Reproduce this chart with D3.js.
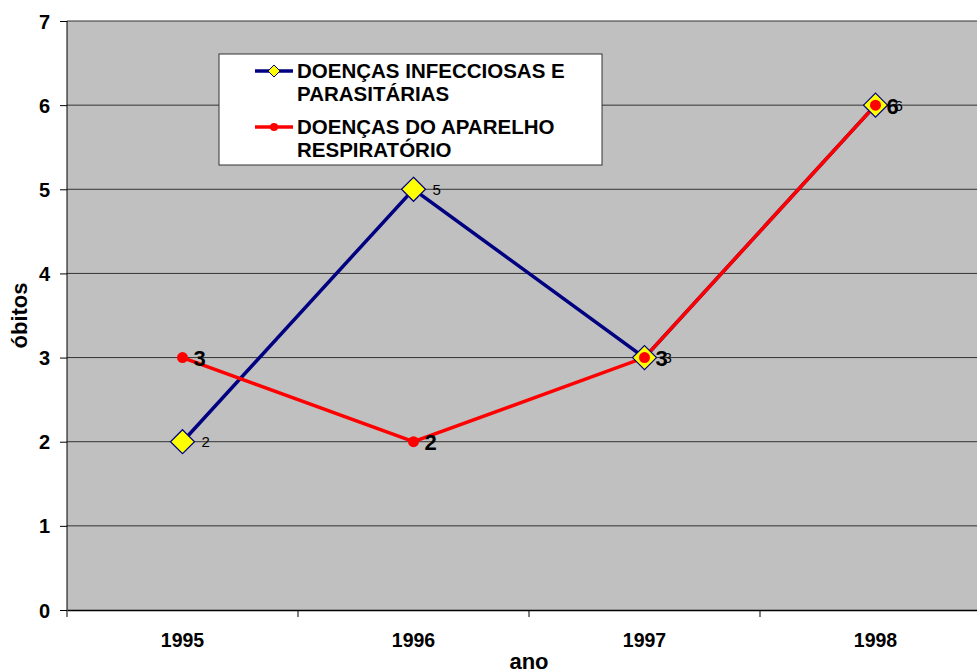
<!DOCTYPE html>
<html>
<head>
<meta charset="utf-8">
<script src="https://cdn.jsdelivr.net/npm/d3@7"></script>
<style>
  body { margin: 0; background: #fff; }
  svg { font-family: "Liberation Sans", Arial, sans-serif; }
</style>
</head>
<body>
<svg id="chart" width="977" height="671"></svg>
<script>
// Data
const years = ['1995', '1996', '1997', '1998'];
const infecciosas = [2, 5, 3, 6];
const respiratorio = [3, 2, 3, 6];
const yTicks = [0, 1, 2, 3, 4, 5, 6, 7];

const svg = d3.select('#chart');
const margin = { left: 67, top: 21, right: -14, bottom: 61 };
const width = 977 - margin.left - margin.right;
const height = 671 - margin.top - margin.bottom;

const g = svg.append('g').attr('transform', `translate(${margin.left},${margin.top})`);

const x = d3.scaleBand().domain(years).range([0, width]);
const y = d3.scaleLinear().domain([0, 7]).range([height, 0]);

// Plot background
g.append('rect')
    .attr('width', width).attr('height', height)
    .attr('fill', '#c0c0c0');

// Gridlines
g.selectAll('.grid')
    .data(yTicks.filter(d => d > 0))
    .enter().append('line')
    .attr('x1', 0).attr('x2', width)
    .attr('y1', d => y(d)).attr('y2', d => y(d))
    .attr('stroke', '#333').attr('stroke-width', 1);

// Y axis
const yAxis = g.append('g')
    .call(d3.axisLeft(y).tickValues(yTicks).tickSize(7).tickPadding(10).tickFormat(d3.format('d')));
yAxis.select('.domain').attr('d', `M0,${height}V0`).attr('stroke', '#000');
yAxis.selectAll('text').attr('font-size', 20).attr('font-weight', 'bold').attr('dy', '0.35em');

// X axis
const xAxis = g.append('g')
    .attr('transform', `translate(0,${height})`)
    .call(d3.axisBottom(x).tickSize(0).tickPadding(25));
xAxis.select('.domain').attr('stroke', '#000').attr('stroke-width', 1.5);
xAxis.selectAll('text').attr('font-size', 19.5).attr('font-weight', 'bold').attr('dy', '0.6em');
g.selectAll('.xtick')
    .data(years)
    .enter().append('line')
    .attr('x1', d => x(d)).attr('x2', d => x(d))
    .attr('y1', height).attr('y2', height + 7)
    .attr('stroke', '#000');

// Axis titles
svg.append('text')
    .attr('x', margin.left + x.step() * 2).attr('y', 669)
    .attr('text-anchor', 'middle')
    .attr('font-size', 22).attr('font-weight', 'bold')
    .text('ano');
svg.append('text')
    .attr('transform', `translate(27,${margin.top + height / 2}) rotate(-90)`)
    .attr('text-anchor', 'middle')
    .attr('font-size', 22).attr('font-weight', 'bold')
    .text('óbitos');

const cx = d => x(d) + x.bandwidth() / 2;
const line = d3.line().x(d => cx(d[0])).y(d => y(d[1]));

// Blue series
const blueData = years.map((yr, i) => [yr, infecciosas[i]]);
g.append('path')
    .datum(blueData)
    .attr('d', line)
    .attr('fill', 'none').attr('stroke', '#000080').attr('stroke-width', 3.5);

// Red series
const redData = years.map((yr, i) => [yr, respiratorio[i]]);
g.append('path')
    .datum(redData)
    .attr('d', line)
    .attr('fill', 'none').attr('stroke', '#ff0000').attr('stroke-width', 3.5);

const diamond = s => `M0,${-s}L${s},0L0,${s}L${-s},0Z`;

g.selectAll('.blueMark')
    .data(blueData)
    .enter().append('path')
    .attr('transform', d => `translate(${cx(d[0])},${y(d[1])})`)
    .attr('d', diamond(12))
    .attr('fill', '#ffff00').attr('stroke', '#000080').attr('stroke-width', 1.2);

g.selectAll('.redMark')
    .data(redData)
    .enter().append('circle')
    .attr('cx', d => cx(d[0])).attr('cy', d => y(d[1]))
    .attr('r', 5.5)
    .attr('fill', '#ff0000');

// Data labels
g.selectAll('.blueLabel')
    .data(blueData)
    .enter().append('text')
    .attr('x', d => cx(d[0]) + 19).attr('y', d => y(d[1]))
    .attr('dy', '0.38em')
    .attr('font-size', 15)
    .text(d => d[1]);

g.selectAll('.redLabel')
    .data(redData)
    .enter().append('text')
    .attr('x', d => cx(d[0]) + 11).attr('y', d => y(d[1]))
    .attr('dy', '0.38em')
    .attr('font-size', 22).attr('font-weight', 'bold')
    .text(d => d[1]);

// Legend
const legend = svg.append('g').attr('transform', 'translate(219,54)');
legend.append('rect')
    .attr('width', 383).attr('height', 111)
    .attr('fill', '#fff').attr('stroke', '#333').attr('stroke-width', 1);

const legendItems = [
    { lines: ['DOENÇAS INFECCIOSAS E', 'PARASITÁRIAS'], color: '#000080', mark: 'diamond', y: 17 },
    { lines: ['DOENÇAS DO APARELHO', 'RESPIRATÓRIO'], color: '#ff0000', mark: 'circle', y: 73 }
];
legendItems.forEach(item => {
    const it = legend.append('g').attr('transform', `translate(0,${item.y})`);
    it.append('line')
        .attr('x1', 36).attr('x2', 74).attr('y1', 0).attr('y2', 0)
        .attr('stroke', item.color).attr('stroke-width', 3.5);
    if (item.mark === 'diamond') {
        it.append('path').attr('transform', 'translate(55,0)').attr('d', diamond(6))
            .attr('fill', '#ffff00').attr('stroke', '#000080').attr('stroke-width', 1);
    } else {
        it.append('circle').attr('cx', 55).attr('cy', 0).attr('r', 4).attr('fill', '#ff0000');
    }
    it.selectAll('text')
        .data(item.lines)
        .enter().append('text')
        .attr('x', 78).attr('y', (d, i) => i * 23)
        .attr('dy', '0.36em')
        .attr('font-size', 20.5).attr('font-weight', 'bold')
        .text(d => d);
});
</script>
</body>
</html>
